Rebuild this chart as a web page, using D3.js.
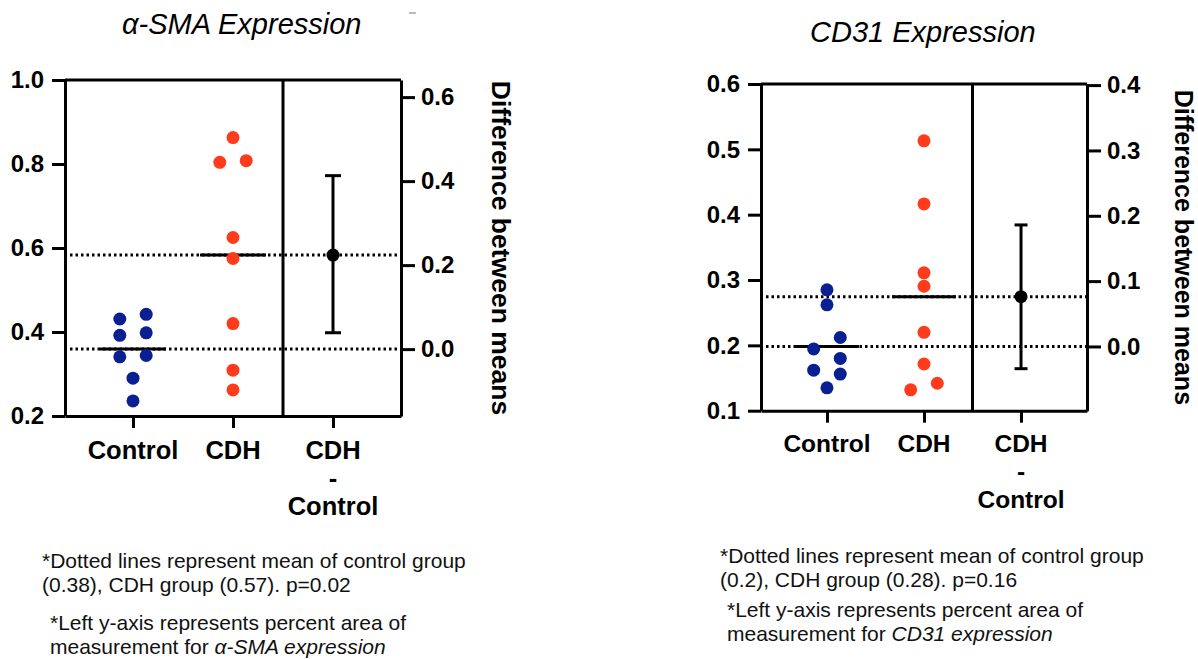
<!DOCTYPE html>
<html>
<head>
<meta charset="utf-8">
<script src="https://cdn.jsdelivr.net/npm/d3@7"></script>
<style>
  body { margin: 0; background: #fff; }
  text { font-family: "Liberation Sans", Arial, Helvetica, sans-serif; }
</style>
</head>
<body>
<svg width="1198" height="659"></svg>
<script>
var categories = ["Control", "CDH", "CDH - Control"];

// alpha-SMA, percent area
var smaControl = [0.442, 0.431, 0.398, 0.392, 0.344, 0.341, 0.290, 0.236];
var smaCDH = [0.863, 0.808, 0.804, 0.625, 0.575, 0.420, 0.309, 0.262];
var smaDiffCI = [0.039, 0.413];
var smaLeftTicks = [0.2, 0.4, 0.6, 0.8, 1.0];
var smaRightTicks = [0.0, 0.2, 0.4, 0.6];

// CD31, percent area
var cd31Control = [0.285, 0.262, 0.212, 0.1945, 0.180, 0.162, 0.156, 0.135];
var cd31CDH = [0.513, 0.4165, 0.311, 0.2905, 0.220, 0.1715, 0.142, 0.132];
var cd31DiffCI = [-0.034, 0.186];
var cd31LeftTicks = [0.1, 0.2, 0.3, 0.4, 0.5, 0.6];
var cd31RightTicks = [0.0, 0.1, 0.2, 0.3, 0.4];

var blue = "#0a1f92",
    red = "#ff3b1c";

var svg = d3.select("svg");

// simple column scatter: runs of close points alternate right/left
function swarm(values, y, cx, r, step) {
  var pts = values.map(function(v) { return {v: v, py: y(v)}; })
    .sort(function(a, b) { return a.py - b.py; });
  var runs = [], cur = [];
  pts.forEach(function(p, i) {
    if (i > 0 && p.py - pts[i - 1].py >= 2 * r) { runs.push(cur); cur = []; }
    cur.push(p);
  });
  runs.push(cur);
  runs.forEach(function(run) {
    run.forEach(function(p, i) {
      p.px = run.length === 1 ? cx : cx + (i % 2 === 0 ? step : -step);
    });
  });
  return pts;
}

function drawPanel(cfg) {
  var g = svg.append("g");

  var x = d3.scalePoint().domain(categories).range([cfg.left, cfg.right]).padding(0.68);
  var y = d3.scaleLinear().domain(cfg.yDomain).range([cfg.bottom, cfg.top]);

  var meanC = d3.mean(cfg.control),
      meanD = d3.mean(cfg.cdh);
  var yR = d3.scaleLinear()
      .domain([cfg.yDomain[0] - meanC, cfg.yDomain[1] - meanC])
      .range([cfg.bottom, cfg.top]);

  var divX = (x("CDH") + x("CDH - Control")) / 2;

  // dotted mean lines
  g.selectAll(".meanline")
    .data([meanC, meanD])
    .enter().append("line")
      .attr("x1", cfg.left + 5)
      .attr("x2", cfg.right)
      .attr("y1", function(d) { return y(d); })
      .attr("y2", function(d) { return y(d); })
      .attr("stroke", "#000")
      .attr("stroke-width", 3)
      .attr("stroke-dasharray", "2.5,3");

  // frame: top + divider
  g.append("line")
      .attr("x1", cfg.left).attr("x2", cfg.right)
      .attr("y1", cfg.top).attr("y2", cfg.top)
      .attr("stroke", "#000").attr("stroke-width", 3);
  g.append("line")
      .attr("x1", divX).attr("x2", divX)
      .attr("y1", cfg.top).attr("y2", cfg.bottom + 1)
      .attr("stroke", "#000").attr("stroke-width", 3);

  // axes
  var fs = cfg.tickFont + "px";
  var left = g.append("g")
      .attr("transform", "translate(" + cfg.left + ",0)")
      .call(d3.axisLeft(y).tickValues(cfg.leftTicks).tickSize(13).tickSizeOuter(0)
        .tickPadding(8).tickFormat(d3.format(".1f")));
  var right = g.append("g")
      .attr("transform", "translate(" + cfg.right + ",0)")
      .call(d3.axisRight(yR).tickValues(cfg.rightTicks).tickSize(14).tickSizeOuter(0)
        .tickPadding(6).tickFormat(d3.format(".1f")));
  var bottom = g.append("g")
      .attr("transform", "translate(0," + cfg.bottom + ")")
      .call(d3.axisBottom(x).tickSize(12).tickSizeOuter(0).tickFormat(""));

  [left, right, bottom].forEach(function(a) {
    a.selectAll("path, line").attr("stroke", "#000").attr("stroke-width", 3);
    a.selectAll("text")
      .attr("fill", "#000")
      .style("font-family", "'Liberation Sans', Arial, sans-serif")
      .style("font-weight", "bold")
      .style("font-size", fs);
  });

  // category labels
  var lab = g.selectAll(".cat")
    .data(categories)
    .enter().append("text")
      .attr("text-anchor", "middle")
      .attr("font-weight", "bold")
      .attr("font-size", cfg.labFont + "px")
      .attr("transform", function(d) { return "translate(" + x(d) + "," + (cfg.bottom + cfg.labOffset) + ")"; });
  lab.selectAll("tspan")
    .data(function(d) { return d.split(" "); })
    .enter().append("tspan")
      .attr("x", 0)
      .attr("y", function(d, i) { return i * cfg.labLine; })
      .text(function(d) { return d; });

  // right axis title
  g.append("text")
      .attr("transform", "translate(" + cfg.rTitleX + "," + ((cfg.top + cfg.bottom) / 2) + ") rotate(90)")
      .attr("text-anchor", "middle")
      .attr("font-weight", "bold")
      .attr("font-size", cfg.rTitleFont + "px")
      .text("Difference between means");

  // group means (solid)
  var half = cfg.meanHalf;
  g.selectAll(".groupmean")
    .data([{k: "Control", m: meanC}, {k: "CDH", m: meanD}])
    .enter().append("line")
      .attr("x1", function(d) { return x(d.k) - half; })
      .attr("x2", function(d) { return x(d.k) + half; })
      .attr("y1", function(d) { return y(d.m); })
      .attr("y2", function(d) { return y(d.m); })
      .attr("stroke", "#000").attr("stroke-width", 3);

  // dots
  var r = cfg.r;
  [[cfg.control, "Control", blue], [cfg.cdh, "CDH", red]].forEach(function(s) {
    g.selectAll(null)
      .data(swarm(s[0], y, x(s[1]), r, cfg.step))
      .enter().append("circle")
        .attr("cx", function(d) { return d.px; })
        .attr("cy", function(d) { return d.py; })
        .attr("r", r)
        .attr("fill", s[2]);
  });

  // difference with CI
  var dx = x("CDH - Control"),
      diff = meanD - meanC,
      cap = cfg.cap;
  g.append("line")
      .attr("x1", dx).attr("x2", dx)
      .attr("y1", yR(cfg.ci[0])).attr("y2", yR(cfg.ci[1]))
      .attr("stroke", "#000").attr("stroke-width", 3);
  g.selectAll(".cap")
    .data(cfg.ci)
    .enter().append("line")
      .attr("x1", dx - cap).attr("x2", dx + cap)
      .attr("y1", function(d) { return yR(d); })
      .attr("y2", function(d) { return yR(d); })
      .attr("stroke", "#000").attr("stroke-width", 3);
  g.append("circle")
      .attr("cx", dx).attr("cy", yR(diff))
      .attr("r", r).attr("fill", "#000");

  // title
  g.append("text")
      .attr("x", cfg.titleX).attr("y", cfg.titleY)
      .attr("font-style", "italic")
      .attr("font-size", "29px")
      .text(cfg.title);

  // notes
  var notes = g.append("g").attr("font-size", "21px").attr("fill", "#111");
  cfg.notes.forEach(function(n) {
    var t = notes.append("text").attr("x", n.x).attr("y", n.y);
    n.parts.forEach(function(p) {
      t.append("tspan").attr("font-style", p.it ? "italic" : null).text(p.s);
    });
  });
}

drawPanel({
  title: "\u03b1-SMA Expression", titleX: 122, titleY: 34,
  control: smaControl, cdh: smaCDH, ci: smaDiffCI,
  leftTicks: smaLeftTicks, rightTicks: smaRightTicks, yDomain: [0.2, 1.0],
  left: 65, right: 401, top: 80, bottom: 416,
  tickFont: 24, labFont: 25.5, labOffset: 43, labLine: 28,
  rTitleX: 492, rTitleFont: 26.5,
  r: 6.5, step: 13.2, meanHalf: 33, cap: 8,
  notes: [
    {x: 42, y: 568, parts: [{s: "*Dotted lines represent mean of control group"}]},
    {x: 42, y: 592, parts: [{s: "(0.38), CDH group (0.57). p=0.02"}]},
    {x: 50, y: 630, parts: [{s: "*Left y-axis represents percent area of"}]},
    {x: 50, y: 654, parts: [{s: "measurement for "}, {s: "\u03b1-SMA expression", it: true}]}
  ]
});

drawPanel({
  title: "CD31 Expression", titleX: 810, titleY: 42,
  control: cd31Control, cdh: cd31CDH, ci: cd31DiffCI,
  leftTicks: cd31LeftTicks, rightTicks: cd31RightTicks, yDomain: [0.1, 0.6],
  left: 761, right: 1087, top: 84, bottom: 410.7,
  tickFont: 24, labFont: 24.5, labOffset: 41.6, labLine: 27.7,
  rTitleX: 1175, rTitleFont: 25,
  r: 6.5, step: 13.3, meanHalf: 32, cap: 6.5,
  notes: [
    {x: 720, y: 563, parts: [{s: "*Dotted lines represent mean of control group"}]},
    {x: 720, y: 587, parts: [{s: "(0.2), CDH group (0.28). p=0.16"}]},
    {x: 727, y: 617, parts: [{s: "*Left y-axis represents percent area of"}]},
    {x: 727, y: 641, parts: [{s: "measurement for "}, {s: "CD31 expression", it: true}]}
  ]
});

// small grey mark near the top of the first panel
svg.append("line")
    .attr("x1", 409).attr("x2", 416).attr("y1", 13).attr("y2", 13)
    .attr("stroke", "#bbb").attr("stroke-width", 2);
</script>
</body>
</html>
